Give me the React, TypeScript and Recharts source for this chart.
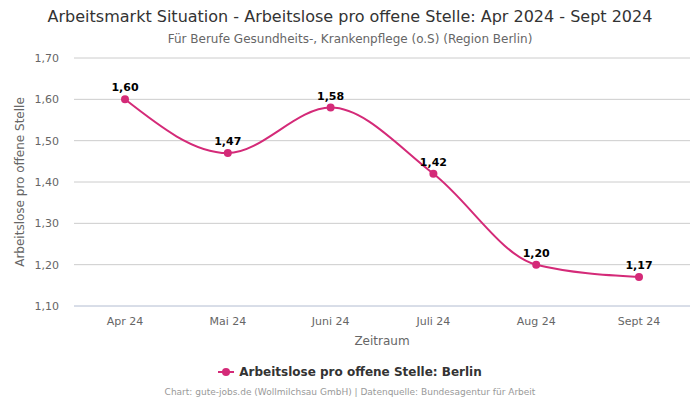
import { LineChart, Line, XAxis, YAxis, CartesianGrid, Legend, LabelList } from 'recharts';

const months = ['Apr 24', 'Mai 24', 'Juni 24', 'Juli 24', 'Aug 24', 'Sept 24'];
const berlin = [1.6, 1.47, 1.58, 1.42, 1.2, 1.17];
const yTicks = [1.1, 1.2, 1.3, 1.4, 1.5, 1.6, 1.7];

const data = months.map((m, i) => ({ month: m, value: berlin[i] }));

const FONT = '"DejaVu Sans", sans-serif';
const PINK = '#d42a78';
const SERIES = 'Arbeitslose pro offene Stelle: Berlin';

const fmt = (v: number) => v.toFixed(2).replace('.', ',');

// eigene Legende: Linie mit Punkt wie im Original
const LegendContent = () => (
  <div style={{ display: 'flex', justifyContent: 'center', alignItems: 'center', fontSize: 12, fontWeight: 'bold', color: '#333', fontFamily: FONT }}>
    <svg width={16} height={10} style={{ marginRight: 5 }}>
      <line x1={0} y1={5} x2={16} y2={5} stroke={PINK} strokeWidth={2} />
      <circle cx={8} cy={5} r={4} fill={PINK} />
    </svg>
    <span>{SERIES}</span>
  </div>
);

export default function App() {
  return (
    <div style={{ position: 'absolute', left: 0, top: 0, width: 700, height: 400, background: '#fff', fontFamily: FONT }}>
      <div style={{ position: 'absolute', top: 7, width: 700, textAlign: 'center', fontSize: 16, color: '#333' }}>
        Arbeitsmarkt Situation - Arbeitslose pro offene Stelle: Apr 2024 - Sept 2024
      </div>
      <div style={{ position: 'absolute', top: 32, width: 700, textAlign: 'center', fontSize: 12, color: '#666' }}>
        Für Berufe Gesundheits-, Krankenpflege (o.S) (Region Berlin)
      </div>
      <LineChart width={700} height={400} data={data} margin={{ top: 58, right: 10, bottom: 35, left: 0 }}>
        <CartesianGrid vertical={false} stroke="#cccccc" />
        <XAxis
          dataKey="month"
          padding={{ left: 51, right: 51 }}
          tickLine={false}
          axisLine={{ stroke: '#ccd6eb' }}
          tick={{ fontSize: 11, fill: '#666', fontFamily: FONT }}
          tickMargin={5}
          height={45}
          label={{ value: 'Zeitraum', position: 'insideBottom', offset: 6, fontSize: 12, fill: '#666', fontFamily: FONT }}
        />
        <YAxis
          domain={[1.1, 1.7]}
          ticks={yTicks}
          tickFormatter={fmt}
          axisLine={false}
          tickLine={false}
          tickMargin={9}
          width={74}
          tick={{ fontSize: 11, fill: '#666', fontFamily: FONT }}
          label={{ value: 'Arbeitslose pro offene Stelle', angle: -90, position: 'insideLeft', offset: 20, fontSize: 12, fill: '#666', fontFamily: FONT, style: { textAnchor: 'middle' } }}
        />
        <Legend
          verticalAlign="bottom"
          content={<LegendContent />}
          wrapperStyle={{ position: 'absolute', top: 365, left: 0, width: 700 }}
        />
        <Line
          name={SERIES}
          type="monotone"
          dataKey="value"
          stroke={PINK}
          strokeWidth={2}
          dot={{ r: 4, fill: PINK, stroke: PINK, strokeWidth: 0 }}
          activeDot={false}
          isAnimationActive={false}
        >
          <LabelList dataKey="value" position="top" offset={8} formatter={(v: number) => fmt(v)} style={{ fontSize: 11, fontWeight: 'bold', fill: '#000', fontFamily: FONT }} />
        </Line>
      </LineChart>
      <div style={{ position: 'absolute', top: 387, width: 700, textAlign: 'center', fontSize: 9, color: '#999' }}>
        Chart: gute-jobs.de (Wollmilchsau GmbH) | Datenquelle: Bundesagentur für Arbeit
      </div>
    </div>
  );
}
